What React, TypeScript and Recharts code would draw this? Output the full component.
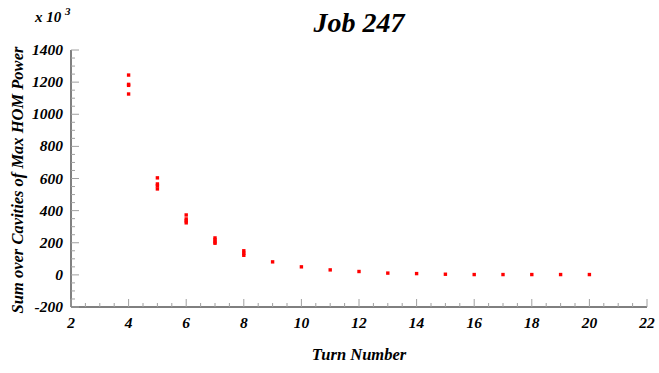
import React from 'react';
import { ScatterChart, Scatter, XAxis, YAxis } from 'recharts';

// Data (values in units of 10^3)
const turnNumbers = [4, 4, 4, 4, 5, 5, 5, 5, 6, 6, 6, 6, 7, 7, 7, 7, 8, 8, 8, 9, 10, 11, 12, 13, 14, 15, 16, 17, 18, 19, 20];
const homPower = [1244, 1186, 1180, 1126, 604, 566, 554, 535, 373, 348, 336, 324, 230, 218, 205, 197, 150, 135, 122, 81, 50, 31, 21, 11, 8, 4, 2, 2, 2, 2, 2];

const xMajorTicks = [2, 4, 6, 8, 10, 12, 14, 16, 18, 20, 22];
const yMajorTicks = [-200, 0, 200, 400, 600, 800, 1000, 1200, 1400];
const xAllTicks = Array.from({ length: 41 }, (_, i) => 2 + i * 0.5);
const yAllTicks = Array.from({ length: 33 }, (_, i) => -200 + i * 50);

const points = turnNumbers.map((t, i) => ({ turn: t, power: homPower[i] }));

const FONT = '"Liberation Serif", "DejaVu Serif", serif';
const TICK_COLOR = '#a0a0a0';
const MAJOR = 8;
const MINOR = 4;

const isMajor = (v: number, list: number[]) => list.some((m) => Math.abs(m - v) < 1e-6);

const BottomTick = (props: any) => {
  const { x, y, payload } = props;
  const v = payload.value;
  const major = isMajor(v, xMajorTicks);
  return (
    <g>
      <line x1={x} x2={x} y1={y} y2={y - (major ? MAJOR : MINOR)} stroke={TICK_COLOR} strokeWidth={1} />
      {major && (
        <text x={x} y={y + 21} textAnchor="middle" fontFamily={FONT} fontWeight="bold" fontStyle="italic" fontSize={15.5} fill="#000">
          {v}
        </text>
      )}
    </g>
  );
};

const TopTick = (props: any) => {
  const { x, y, payload } = props;
  const major = isMajor(payload.value, xMajorTicks);
  return <line x1={x} x2={x} y1={y} y2={y + (major ? MAJOR : MINOR)} stroke={TICK_COLOR} strokeWidth={1} />;
};

const LeftTick = (props: any) => {
  const { x, y, payload } = props;
  const v = payload.value;
  const major = isMajor(v, yMajorTicks);
  return (
    <g>
      <line x1={x} x2={x + (major ? MAJOR : MINOR)} y1={y} y2={y} stroke={TICK_COLOR} strokeWidth={1} />
      {major && (
        <text x={x - 8} y={y + 5} textAnchor="end" fontFamily={FONT} fontWeight="bold" fontStyle="italic" fontSize={15.5} fill="#000">
          {v}
        </text>
      )}
    </g>
  );
};

const RightTick = (props: any) => {
  const { x, y, payload } = props;
  const major = isMajor(payload.value, yMajorTicks);
  return <line x1={x} x2={x - (major ? MAJOR : MINOR)} y1={y} y2={y} stroke={TICK_COLOR} strokeWidth={1} />;
};

const PointShape = (props: any) => {
  const { cx, cy } = props;
  return <rect x={cx - 1.7} y={cy - 1.7} width={3.4} height={3.4} fill="#ff0000" />;
};

const textStyle: React.CSSProperties = {
  position: 'absolute',
  fontFamily: FONT,
  fontWeight: 'bold',
  fontStyle: 'italic',
  color: '#000',
  whiteSpace: 'nowrap',
  lineHeight: 1,
};

export default function App() {
  return (
    <div style={{ position: 'absolute', left: 0, top: 0, width: 659, height: 373, background: '#fff' }}>
      <ScatterChart width={659} height={373} margin={{ top: 50, right: 12, bottom: 0, left: 0 }}>
        <XAxis
          xAxisId="bottom"
          dataKey="turn"
          type="number"
          orientation="bottom"
          domain={[2, 22]}
          ticks={xAllTicks}
          interval={0}
          allowDataOverflow
          height={66}
          tickSize={0}
          tickMargin={0}
          tickLine={false}
          axisLine={{ stroke: '#000', strokeWidth: 1 }}
          tick={<BottomTick />}
        />
        <XAxis
          xAxisId="top"
          type="number"
          orientation="top"
          domain={[2, 22]}
          ticks={xAllTicks}
          interval={0}
          allowDataOverflow
          height={0}
          tickSize={0}
          tickMargin={0}
          tickLine={false}
          axisLine={{ stroke: '#000', strokeWidth: 1 }}
          tick={<TopTick />}
        />
        <YAxis
          yAxisId="left"
          dataKey="power"
          type="number"
          orientation="left"
          domain={[-200, 1400]}
          ticks={yAllTicks}
          interval={0}
          allowDataOverflow
          width={71}
          tickSize={0}
          tickMargin={0}
          tickLine={false}
          axisLine={{ stroke: '#000', strokeWidth: 1 }}
          tick={<LeftTick />}
        />
        <YAxis
          yAxisId="right"
          type="number"
          orientation="right"
          domain={[-200, 1400]}
          ticks={yAllTicks}
          interval={0}
          allowDataOverflow
          width={0}
          tickSize={0}
          tickMargin={0}
          tickLine={false}
          axisLine={{ stroke: '#000', strokeWidth: 1 }}
          tick={<RightTick />}
        />
        <Scatter
          xAxisId="bottom"
          yAxisId="left"
          data={points}
          shape={<PointShape />}
          isAnimationActive={false}
        />
      </ScatterChart>
      <div style={{ ...textStyle, left: 0, width: 718, top: 9, textAlign: 'center', fontSize: 28 }}>Job 247</div>
      <div style={{ ...textStyle, left: 35, top: 10, fontSize: 15 }}>
        x 10 <sup style={{ fontSize: 11, verticalAlign: 'top', position: 'relative', top: -4 }}>3</sup>
      </div>
      <div style={{ ...textStyle, left: 0, width: 718, top: 347, textAlign: 'center', fontSize: 16.5 }}>Turn Number</div>
      <div
        style={{
          ...textStyle,
          fontSize: 16.5,
          left: 18,
          top: 180,
          transform: 'translate(-50%, -50%) rotate(-90deg)',
        }}
      >
        Sum over Cavities of Max HOM Power
      </div>
    </div>
  );
}
